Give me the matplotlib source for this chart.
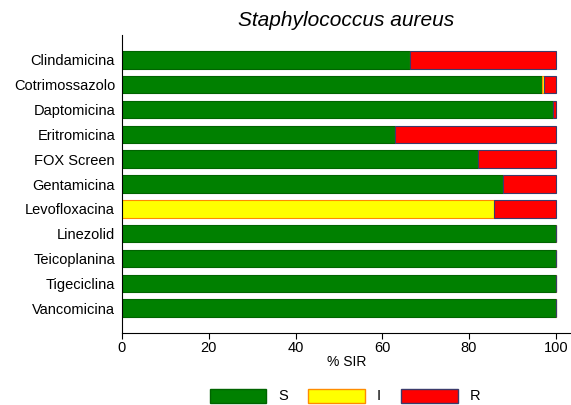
import matplotlib
matplotlib.use("Agg")
import matplotlib.pyplot as plt
from matplotlib.patches import Patch

plt.rcParams['font.family'] = ['Liberation Sans', 'DejaVu Sans']

antibiotici = ["Clindamicina", "Cotrimossazolo", "Daptomicina", "Eritromicina",
               "FOX Screen", "Gentamicina", "Levofloxacina", "Linezolid",
               "Teicoplanina", "Tigeciclina", "Vancomicina"]
S = [66.4, 96.8, 99.3, 62.9, 82.0, 87.8, 0.0, 100, 100, 100, 100]
I = [0.0, 0.5, 0.0, 0.0, 0.0, 0.0, 85.7, 0, 0, 0, 0]
R = [33.6, 2.7, 0.7, 37.1, 18.0, 12.2, 14.3, 0, 0, 0, 0]

fig = plt.figure(figsize=(5.71, 4.05), dpi=100)
ax = fig.add_axes([122 / 571, 1 - 333 / 405, 1 - 122 / 571, 298 / 405])

pos = list(range(len(antibiotici)))
h = 0.7
ax.barh(pos, S, height=h, color="#008000", edgecolor="#006400", linewidth=0.8)
ax.barh(pos, I, left=S, height=h, color="#ffff00", edgecolor="#ff8c00", linewidth=0.8)
left_r = [s + i for s, i in zip(S, I)]
ax.barh(pos, R, left=left_r, height=h, color="#ff0000", edgecolor="#3b3b6b", linewidth=0.8)

ax.set_ylim(len(antibiotici), -1)
ax.set_xlim(0, 103.5)
ax.set_yticks(pos)
ax.set_yticklabels(antibiotici, fontsize=10.5)
ax.tick_params(axis="y", length=0, pad=5)
ax.set_xticks([0, 20, 40, 60, 80, 100])
ax.tick_params(axis="x", labelsize=10.5, direction="out", length=4, pad=2)
ax.set_xlabel("% SIR", fontsize=10, labelpad=0)
for sp in ["top", "right"]:
    ax.spines[sp].set_visible(False)

fig.text(346 / 571, 1 - 20 / 405, "Staphylococcus aureus", ha="center", va="center",
         fontsize=15, style="italic")

handles = [Patch(facecolor="#008000", edgecolor="#006400", label="S"),
           Patch(facecolor="#ffff00", edgecolor="#ff8c00", label="I"),
           Patch(facecolor="#ff0000", edgecolor="#3b3b6b", label="R")]
fig.legend(handles=handles, loc="center", bbox_to_anchor=(345 / 571, 1 - 396 / 405),
           ncol=3, frameon=False, fontsize=10.5, handlelength=3.9, handleheight=1.1,
           columnspacing=1.4, handletextpad=0.8)

fig.savefig("out.png", dpi=100)
